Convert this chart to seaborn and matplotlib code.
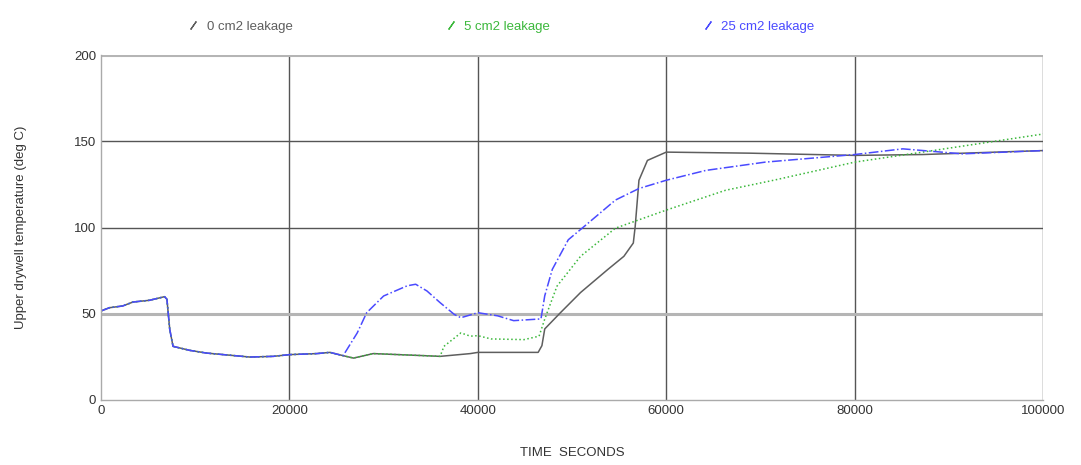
import numpy as np
import pandas as pd
import matplotlib
matplotlib.use("Agg")
import matplotlib.pyplot as plt
from matplotlib.lines import Line2D
import seaborn as sns

# Shared early history (all three cases coincide until ~26000 s)
t_common = [0, 900, 2300, 3400, 5150, 6750, 7000, 7300, 7650, 9400, 11200, 13000,
            15800, 18300, 20000, 22900, 24300, 25700]
T_common = [51.6, 53.5, 54.5, 56.8, 57.8, 59.9, 58.4, 40.9, 31.1, 28.8, 27.2, 26.3,
            24.9, 25.3, 26.3, 26.9, 27.6, 25.7]

# 0 cm2 leakage
t_0 = [26800, 28900, 34300, 36000, 39200, 40000, 46400, 46800, 47100, 48800, 50900,
       53800, 55500, 56500, 56700, 57100, 58000, 60000, 68800, 80000, 87200, 100000]
T_0 = [24.3, 26.9, 25.7, 25.3, 26.9, 27.6, 27.6, 31.5, 41.2, 50.8, 62.3,
       75.7, 83.3, 91.0, 100.6, 127.4, 138.9, 143.7, 143.1, 141.8, 142.3, 144.6]

# 5 cm2 leakage
t_5 = [26800, 28900, 34300, 36000, 36400, 38200, 39200, 40000, 41400, 44900, 46500,
       47100, 48400, 50900, 54600, 60000, 66300, 71400, 80000, 87200, 100000]
T_5 = [24.3, 26.9, 25.7, 25.3, 31.1, 38.9, 37.0, 37.3, 35.4, 35.0, 37.0,
       46.9, 66.0, 83.3, 99.6, 110.1, 121.6, 127.4, 137.9, 143.7, 154.2]

# 25 cm2 leakage
t_25 = [26100, 27200, 28200, 30000, 32500, 33400, 34600, 36000, 37500, 38200, 40000,
        42100, 43800, 46700, 47100, 47900, 49600, 51700, 54600, 57100, 60000, 64200,
        70500, 80000, 85100, 91400, 100000]
T_25 = [29.2, 38.9, 50.6, 60.3, 66.2, 67.1, 63.2, 56.4, 49.6, 47.7, 50.6,
        48.8, 46.0, 47.0, 60.4, 75.7, 92.9, 102.5, 115.9, 122.6, 127.4, 133.1,
        137.9, 142.3, 145.6, 142.7, 144.6]

labels = ["0 cm2 leakage", "5 cm2 leakage", "25 cm2 leakage"]
colors = ["#5e5e5e", "#3cb83c", "#4a4aff"]
styles = ["-", ":", "-."]

frames = []
for lab, t, T in [(labels[0], t_0, T_0), (labels[1], t_5, T_5), (labels[2], t_25, T_25)]:
    frames.append(pd.DataFrame({"time": t_common + t, "temp": T_common + T, "case": lab}))
df = pd.concat(frames, ignore_index=True)

sns.set_style("white")
plt.rcParams["font.family"] = ["Liberation Sans", "DejaVu Sans"]

fig = plt.figure(figsize=(10.81, 4.65), dpi=100)
ax = fig.add_axes([0.0934, 0.1398, 0.8716, 0.7419])

for lab, col, ls in zip(labels, colors, styles):
    sub = df[df["case"] == lab]
    sns.lineplot(data=sub, x="time", y="temp", ax=ax, color=col, linestyle=ls,
                 linewidth=1.1, estimator=None, sort=False, legend=False)

ax.set_xlim(0, 100000)
ax.set_ylim(0, 200)
ax.set_xticks([0, 20000, 40000, 60000, 80000, 100000])
ax.set_yticks([0, 50, 100, 150, 200])
ax.set_xticks(np.arange(0, 100001, 4000), minor=True)
ax.set_yticks(np.arange(0, 201, 10), minor=True)
ax.tick_params(axis="both", which="both", direction="in", colors="#999999",
               labelcolor="#333333", labelsize=9.5)
ax.tick_params(which="major", length=4)
ax.tick_params(which="minor", length=3)

# Grid: dark lines at most majors, light thick bands at 50 and 200
for xv in [20000, 40000, 60000, 80000, 100000]:
    ax.axvline(xv, color="#555555", linewidth=1.0, zorder=0.5)
for yv in [100, 150]:
    ax.axhline(yv, color="#555555", linewidth=1.0, zorder=0.5)
for yv in [50, 200]:
    ax.axhline(yv, color="#b5b5b5", linewidth=2.2, zorder=0.5)

for s in ["left", "bottom"]:
    ax.spines[s].set_color("#aaaaaa")
    ax.spines[s].set_linewidth(1.0)
for s in ["top", "right"]:
    ax.spines[s].set_visible(False)

ax.set_xlabel("TIME  SECONDS", fontsize=9.5, color="#333333", labelpad=22)
ax.set_ylabel("Upper drywell temperature (deg C)", fontsize=9.5, color="#333333", labelpad=34)

# Legend with small slanted stroke handles
handles = [Line2D([], [], linestyle="none", marker=(2, 2, -35), markersize=7,
                  markeredgewidth=0.9, color=c) for c in colors]
leg = ax.legend(handles, labels, loc="lower left", bbox_to_anchor=(0.08, 1.03), ncol=3,
                frameon=False, fontsize=9.5, handlelength=0.8, handletextpad=0.6,
                columnspacing=11.6)
for txt, col in zip(leg.get_texts(), colors):
    txt.set_color(col)

fig.savefig("out.png", dpi=100)
